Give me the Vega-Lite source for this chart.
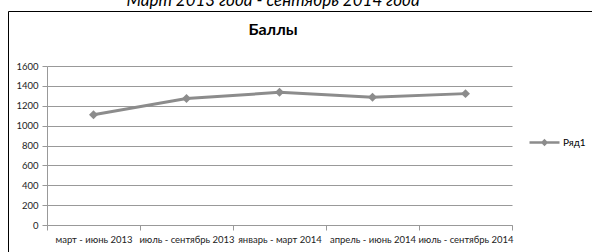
{
  "$schema": "https://vega.github.io/schema/vega-lite/v6.json",
  "autosize": "none",
  "width": 590,
  "height": 245,
  "padding": {"left": 8, "top": 11, "right": 0, "bottom": 0},
  "background": "white",
  "title": {
    "text": "Март 2013 года - сентябрь 2014 года",
    "subtitle": "Баллы",
    "anchor": "middle",
    "dx": -30,
    "offset": -28,
    "font": "Lato",
    "fontSize": 17,
    "fontStyle": "italic",
    "fontWeight": "normal",
    "color": "#000000",
    "subtitleFont": "Lato",
    "subtitleFontSize": 16,
    "subtitleFontWeight": "bold",
    "subtitleColor": "#000000",
    "subtitlePadding": 12
  },
  "config": {
    "view": {"stroke": "#000000", "strokeWidth": 1},
    "axis": {
      "labelFont": "Lato",
      "labelFontSize": 9.5,
      "labelColor": "#222222",
      "domainColor": "#999999",
      "tickColor": "#999999",
      "gridColor": "#999999",
      "gridWidth": 1,
      "tickSize": 5,
      "title": null
    }
  },
  "data": {
    "values": [
      {"period": "март - июнь 2013", "score": 1110, "series": "Ряд1"},
      {"period": "июль - сентябрь 2013", "score": 1272, "series": "Ряд1"},
      {"period": "январь - март 2014", "score": 1335, "series": "Ряд1"},
      {"period": "апрель - июнь 2014", "score": 1285, "series": "Ряд1"},
      {"period": "июль - сентябрь 2014", "score": 1322, "series": "Ряд1"}
    ]
  },
  "mark": {
    "type": "line",
    "strokeWidth": 3,
    "point": {"shape": "diamond", "size": 80, "filled": true, "opacity": 1}
  },
  "encoding": {
    "x": {
      "field": "period",
      "type": "nominal",
      "sort": null,
      "scale": {"range": [39, 504], "paddingInner": 0, "paddingOuter": 0},
      "axis": {
        "orient": "bottom",
        "offset": -31,
        "labelAngle": 0,
        "tickBand": "extent",
        "grid": false,
        "labelPadding": 4
      }
    },
    "y": {
      "field": "score",
      "type": "quantitative",
      "scale": {"domain": [0, 1600], "range": [214, 55], "nice": false, "zero": true},
      "axis": {
        "orient": "left",
        "offset": -39,
        "values": [0, 200, 400, 600, 800, 1000, 1200, 1400, 1600],
        "format": "d",
        "grid": true,
        "labelPadding": 4
      }
    },
    "color": {
      "field": "series",
      "type": "nominal",
      "scale": {"range": ["#8c8c8c"]},
      "legend": {
        "orient": "none",
        "legendX": 520,
        "legendY": 115,
        "title": null,
        "symbolType": "M-1,0H1M0,-0.13L0.13,0L0,0.13L-0.13,0Z",
        "symbolSize": 900,
        "symbolStrokeWidth": 2.5,
        "symbolFillColor": "#8c8c8c",
        "symbolStrokeColor": "#8c8c8c",
        "labelFont": "Lato",
        "labelFontSize": 10,
        "labelColor": "#000000",
        "labelOffset": 2
      }
    }
  }
}
